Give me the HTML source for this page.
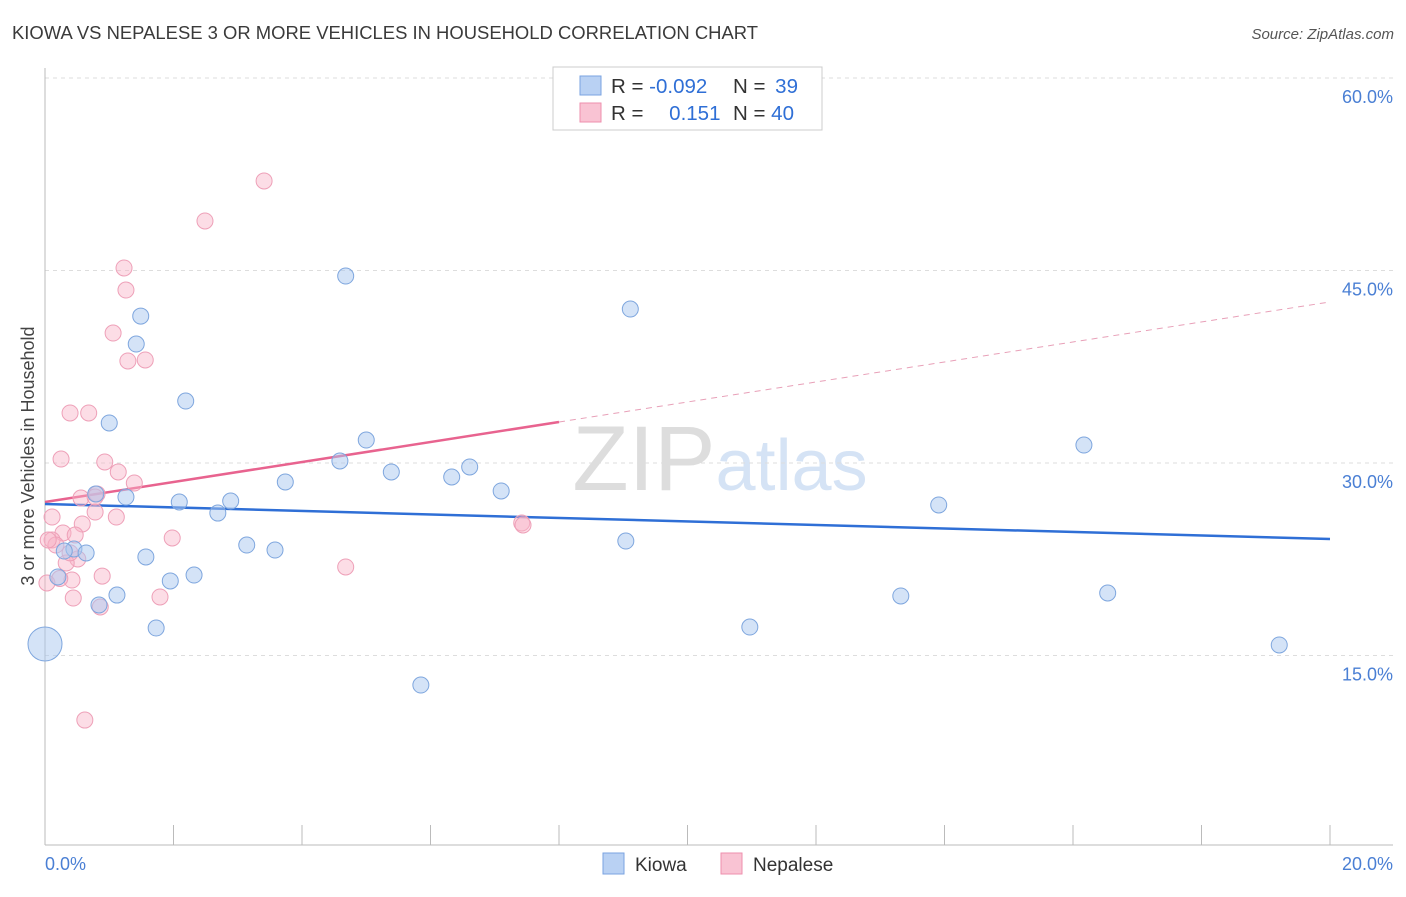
<!DOCTYPE html>
<html><head><meta charset="utf-8"><style>
body{margin:0;background:#fff;font-family:"Liberation Sans",sans-serif;}
svg text{font-family:"Liberation Sans",sans-serif;}
</style></head><body>
<svg id="chart" width="1406" height="892" xmlns="http://www.w3.org/2000/svg">
<text x="12" y="39" font-size="18" fill="#3a3a3a" textLength="746" lengthAdjust="spacingAndGlyphs">KIOWA VS NEPALESE 3 OR MORE VEHICLES IN HOUSEHOLD CORRELATION CHART</text>
<text x="1394" y="39" font-size="15" fill="#555" text-anchor="end" font-style="italic">Source: ZipAtlas.com</text>
<text x="720" y="490" font-size="92" fill="#e4e4e4" text-anchor="middle" font-family="Liberation Serif"><tspan fill="#ddd">ZIP</tspan><tspan fill="#d5e3f5" font-family="Liberation Sans" font-size="72">atlas</tspan></text>
<text transform="translate(34,456) rotate(-90)" font-size="18" fill="#444" text-anchor="middle">3 or more Vehicles in Household</text>
<g id="grid"></g><g id="ticks"></g><g id="lines"></g><g id="pts"></g>
<g>
<rect x="553" y="67" width="269" height="63" fill="#fff" stroke="#ccc"/>
<rect x="580" y="76" width="21" height="19" fill="#b9d1f3" stroke="#7aa3e0"/>
<rect x="580" y="103" width="21" height="19" fill="#f9c3d3" stroke="#ee8fae"/>
<text x="611" y="93" font-size="20.5" fill="#333">R = <tspan fill="#2f6fd6">-0.092</tspan></text>
<text x="733" y="93" font-size="20.5" fill="#333">N = <tspan fill="#2f6fd6" dx="4">39</tspan></text>
<text x="611" y="120" font-size="20.5" fill="#333">R = <tspan fill="#2f6fd6" dx="20">0.151</tspan></text>
<text x="733" y="120" font-size="20.5" fill="#333">N = <tspan fill="#2f6fd6">40</tspan></text>
</g>
<g>
<rect x="603" y="853" width="21" height="21" fill="#b9d1f3" stroke="#7aa3e0"/>
<text x="635" y="871" font-size="19" fill="#333">Kiowa</text>
<rect x="721" y="853" width="21" height="21" fill="#f9c3d3" stroke="#ee8fae"/>
<text x="753" y="871" font-size="19" fill="#333">Nepalese</text>
</g>
</svg>
<script>
const yTicks=[15,30,45,60];
const kiowaX=[1.49,1.42,1.00,2.19,4.68,9.11,5.00,4.59,5.39,3.74,6.33,6.61,7.10,1.26,0.79,2.09,2.89,2.69,3.14,3.58,1.57,2.32,1.95,0.45,0.64,0.20,1.12,0.84,1.73,0.0,5.85,9.04,10.97,13.32,13.91,16.17,16.54,19.21,0.30];
const kiowaY=[41.45,39.27,33.12,34.83,44.57,42.0,31.79,30.16,29.30,28.52,28.91,29.69,27.82,27.35,27.59,26.96,27.04,26.10,23.61,23.22,22.68,21.27,20.81,23.30,22.99,21.12,19.71,18.94,17.14,15.90,12.70,23.92,17.22,19.64,26.73,31.40,19.87,15.82,23.14];
const kiowaR=[8,8,8,8,8,8,8,8,8,8,8,8,8,8,8,8,8,8,8,8,8,8,8,8,8,8,8,8,8,17,8,8,8,8,8,8,8,8,8];
const nepX=[3.41,2.49,1.23,1.26,1.06,1.29,1.56,0.39,0.68,0.25,0.93,1.14,1.39,0.81,0.56,0.78,0.78,1.11,0.58,0.11,0.28,0.47,0.11,0.17,1.98,0.51,0.33,0.89,0.42,0.03,0.44,1.79,0.86,4.68,7.42,7.44,0.62,0.05,0.23,0.39];
const nepY=[51.98,48.86,45.20,43.48,40.13,37.95,38.03,33.90,33.90,30.31,30.08,29.30,28.44,27.59,27.27,27.35,26.18,25.79,25.25,25.79,24.55,24.39,24.0,23.61,24.16,22.52,22.21,21.19,20.88,20.65,19.48,19.56,18.78,21.90,25.33,25.17,9.97,24.0,21.0,23.0];
const kiowaTrend=[26.81,24.08];
const nepTrend=[26.96,42.55];
const X0=45,X1=1330,Y0=848,PY=12.833;
const sx=v=>X0+(v/20)*(X1-X0), sy=v=>Y0-v*PY;
const NS="http://www.w3.org/2000/svg";
function mk(tag,attrs,parent){const e=document.createElementNS(NS,tag);for(const k in attrs)e.setAttribute(k,attrs[k]);document.getElementById(parent).appendChild(e);return e;}
yTicks.forEach(t=>{
 const g=mk('line',{x1:45,x2:1393,y1:sy(t),y2:sy(t),stroke:'#ddd','stroke-dasharray':'4,4'},'grid');
 
 
 const tx=mk('text',{x:1393,y:sy(t)+25,'font-size':18,fill:'#4a7fd4','text-anchor':'end'},'grid');
 tx.textContent=t.toFixed(1)+'%';
 
 
});
let a=mk('line',{x1:45,x2:45,y1:68,y2:845,stroke:'#bbb'},'ticks');


a=mk('line',{x1:45,x2:1393,y1:845,y2:845,stroke:'#bbb'},'ticks');


for(let i=0;i<=10;i++){const x=45+i*128.5;const t=mk('line',{x1:x,x2:x,y1:825,y2:845,stroke:'#bbb'},'ticks');
 
 }
[[0,'0.0%','start',45],[20,'20.0%','end',1393]].forEach(d=>{const t=mk('text',{x:d[3],y:870,'font-size':18,fill:'#4a7fd4','text-anchor':d[2]},'ticks');t.textContent=d[1];
 
 });
const ny=x=>nepTrend[0]+(nepTrend[1]-nepTrend[0])*x/20;
let l=mk('line',{x1:sx(0),y1:sy(ny(0)),x2:sx(8),y2:sy(ny(8)),stroke:'#e8638f','stroke-width':2.5},'lines');


l=mk('line',{x1:sx(8),y1:sy(ny(8)),x2:sx(20),y2:sy(ny(20)),stroke:'#e8a0b8','stroke-width':1,'stroke-dasharray':'6,5'},'lines');


l=mk('line',{x1:sx(0),y1:sy(kiowaTrend[0]),x2:sx(20),y2:sy(kiowaTrend[1]),stroke:'#2f6fd6','stroke-width':2.5},'lines');


nepX.forEach((v,i)=>{const c=mk('circle',{cx:sx(v),cy:sy(nepY[i]),r:8,fill:'rgba(249,180,200,0.45)',stroke:'#eea0b8','stroke-width':1},'pts');
 
 });
kiowaX.forEach((v,i)=>{const c=mk('circle',{cx:sx(v),cy:sy(kiowaY[i]),r:kiowaR[i],fill:'rgba(170,200,240,0.5)',stroke:'#7ea6de','stroke-width':1},'pts');
 
 });
</script>
</body></html>
